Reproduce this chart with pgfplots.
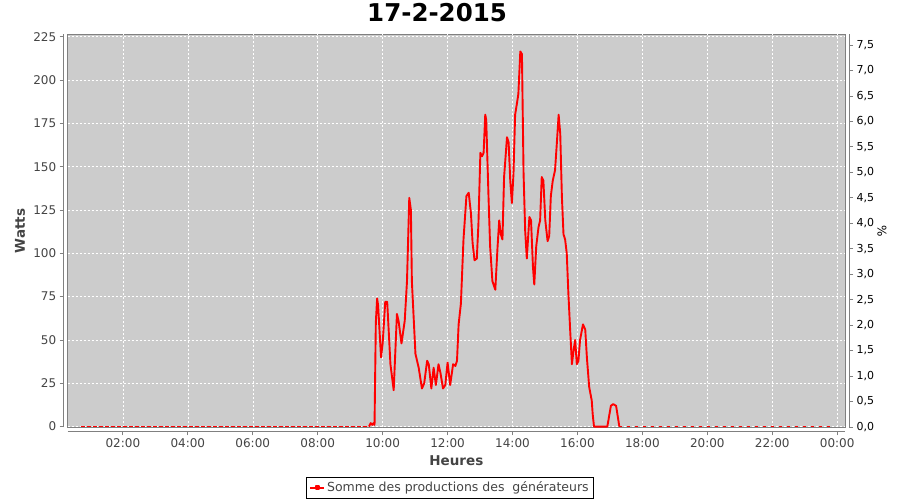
\documentclass[border=0pt]{standalone}
\usepackage{fontspec}
\setmainfont{DejaVu Sans}
\usepackage{pgfplots}
\pgfplotsset{compat=1.18}
\definecolor{plotbg}{RGB}{204,204,204}
\definecolor{axgray}{RGB}{128,128,128}
\definecolor{txtgray}{RGB}{68,68,68}
\begin{document}
\begin{tikzpicture}[x=1pt,y=1pt]
\useasboundingbox (-67.7,-72.7) rectangle (832.3,427.3);
\begin{axis}[
  at={(0,0)}, anchor=south west, scale only axis,
  width=777.3pt, height=393pt,
  xmin=0.30, xmax=24.24, ymin=-0.4, ymax=226.4,
  axis x line*=bottom, axis y line*=left,
  axis x line shift=4pt, axis y line shift=4pt,
  x axis line style={-, axgray, line width=0.9pt},
  y axis line style={-, axgray, line width=0.9pt},
  axis background/.style={fill=plotbg, draw=axgray, line width=0.8pt},
  tick align=outside, major tick length=4pt,
  tick style={axgray, line width=0.8pt},
  xtick={2,4,...,24},
  xticklabels={02:00,04:00,06:00,08:00,10:00,12:00,14:00,16:00,18:00,20:00,22:00,00:00},
  ytick={0,25,...,225},
  /pgf/number format/assume math mode=true,
  ticklabel style={font=\fontsize{12}{12}\selectfont, text=txtgray},
  grid=major,
  major grid style={white, line width=0.5pt, dash pattern=on 2pt off 2pt},
  xlabel={Heures},
  every axis x label/.style={at={(axis description cs:0.5,-0.084)}, anchor=center, font=\bfseries\fontsize{13.5}{13.5}\selectfont, text=txtgray},
  ylabel={Watts},
  every axis y label/.style={at={(axis description cs:-0.0614,0.5)}, anchor=center, rotate=90, font=\bfseries\fontsize{13.5}{13.5}\selectfont, text=txtgray},
  title={17-2-2015},
  every axis title/.style={at={(axis description cs:0.4752,1.0544)}, anchor=center, font=\bfseries\fontsize{24.5}{24.5}\selectfont, text=black},
  legend style={at={(axis description cs:0.4918,-0.1265)}, anchor=north, draw=black, line width=0.8pt, font=\fontsize{12.5}{12.5}\selectfont, text=txtgray, inner xsep=2.5pt, inner ysep=2.5pt, legend cell align=left, /tikz/every even column/.append style={column sep=0pt}},
  legend image code/.code={\draw[red, line width=1.8pt] (0pt,0pt) -- (14pt,0pt); \fill[red] (5.5pt,-1.5pt) rectangle (8.5pt,1.5pt);},
]
\addplot[red, line width=1.2pt, dash pattern=on 4pt off 2pt, forget plot] coordinates {
(0.70,0) (9.60,0)
};
\addplot[red, line width=1.2pt, dash pattern=on 3pt off 5pt, forget plot] coordinates {
(17.29,0) (23.78,0)
};
\addplot[red, line width=1.9pt, line join=round] coordinates {
(9.58,0) (9.63,2) (9.68,1) (9.72,2) (9.75,1) (9.79,60) (9.83,74) (9.86,70)
(9.95,40) (10.00,48) (10.08,72) (10.14,72) (10.24,36) (10.34,21) (10.44,65)
(10.49,61) (10.58,48) (10.68,61) (10.75,84) (10.82,132) (10.87,125) (10.90,84)
(11.01,42) (11.11,34) (11.21,22) (11.28,25) (11.37,38) (11.42,36) (11.50,22)
(11.57,34) (11.64,24) (11.72,36) (11.78,31) (11.86,22) (11.93,24) (12.00,37)
(12.08,24) (12.17,36) (12.24,35) (12.29,38) (12.34,59) (12.41,71) (12.49,108)
(12.58,133) (12.65,135) (12.72,123) (12.77,106) (12.83,96) (12.90,97) (12.95,117)
(13.01,158) (13.06,156) (13.11,158) (13.16,180) (13.19,177) (13.26,133) (13.31,104)
(13.38,84) (13.47,79) (13.54,104) (13.59,119) (13.64,111) (13.69,108) (13.74,144)
(13.83,167) (13.88,164) (13.93,142) (13.98,129) (14.03,146) (14.08,180) (14.14,187)
(14.18,192) (14.24,216.5) (14.29,215) (14.34,146) (14.39,113) (14.44,97) (14.52,121)
(14.57,119) (14.63,92) (14.67,82) (14.73,104) (14.80,115) (14.85,119) (14.90,144)
(14.95,142) (15.01,119) (15.08,107) (15.13,110) (15.18,133) (15.24,142) (15.31,148)
(15.37,165) (15.42,180) (15.47,169) (15.52,133) (15.57,111) (15.62,108) (15.67,100)
(15.72,77) (15.78,54) (15.83,36) (15.88,44) (15.93,50) (15.98,36) (16.03,38)
(16.08,50) (16.17,59) (16.24,56) (16.29,40) (16.36,23) (16.44,15) (16.47,7)
(16.51,0) (16.92,0) (17.03,12) (17.10,13) (17.19,12) (17.29,0)
};
\addlegendentry{Somme des productions des\ \ générateurs}
\end{axis}
\begin{axis}[
  at={(0,0)}, anchor=south west, scale only axis,
  width=777.3pt, height=393pt,
  xmin=0.30, xmax=24.24, ymin=-0.006, ymax=7.71,
  axis x line=none, axis y line*=right,
  axis y line shift=4pt,
  y axis line style={-, axgray, line width=0.9pt},
  tick align=outside, major tick length=4pt,
  tick style={axgray, line width=0.8pt},
  ytick={0,0.5,...,7.5},
  /pgf/number format/.cd, fixed, fixed zerofill, precision=1, use comma, assume math mode=true,
  /pgfplots/.cd,
  yticklabel style={font=\fontsize{11}{11}\selectfont, text=black},
  ylabel={\%},
  every axis y label/.style={at={(axis description cs:1.0476,0.5)}, anchor=center, rotate=-90, font=\fontsize{12}{12}\selectfont, text=black},
]
\addplot[draw=none] coordinates {(1,0)};
\end{axis}
\end{tikzpicture}
\end{document}
